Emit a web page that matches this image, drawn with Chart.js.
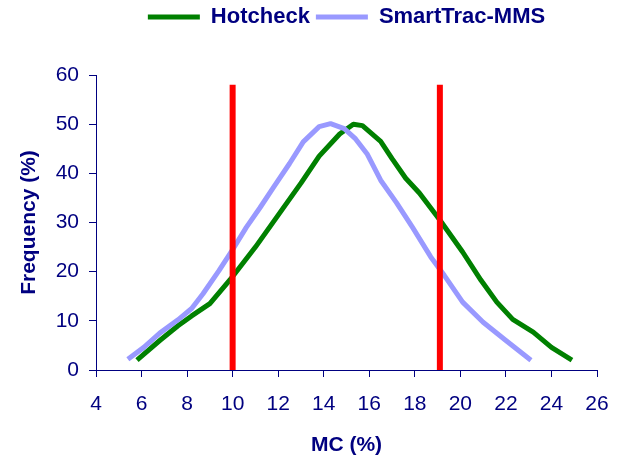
<!DOCTYPE html>
<html>
<head>
<meta charset="utf-8">
<script src="https://cdn.jsdelivr.net/npm/chart.js@4"></script>
<style>
html,body{margin:0;padding:0;background:#fff;}
#wrap{width:617px;height:458px;position:relative;}
</style>
</head>
<body>
<div id="wrap"><canvas id="c" width="617" height="458"></canvas></div>
<script>
const seriesNames = ['Hotcheck', 'SmartTrac-MMS'];
const hotcheckX = [5.8, 6.8, 7.6, 8.2, 9.0, 10.0, 11.0, 12.0, 13.0, 13.8, 14.7, 15.3, 15.7, 16.5, 17.0, 17.6, 18.2, 19.1, 20.1, 20.9, 21.6, 22.3, 23.2, 24.0, 24.9];
const hotcheckY = [2, 6, 9, 11, 13.5, 19, 25, 31.5, 38, 43.5, 48, 50, 49.7, 46.5, 43, 39, 36, 30.5, 24, 18.3, 13.8, 10.3, 7.7, 4.6, 2];
const smartX = [5.4, 6.1, 6.8, 7.6, 8.2, 8.7, 9.4, 10.0, 10.6, 11.2, 11.8, 12.5, 13.1, 13.8, 14.3, 14.9, 15.4, 15.9, 16.5, 17.2, 17.9, 18.7, 19.3, 20.1, 21.0, 22.0, 23.1];
const smartY = [2.2, 4.6, 7.5, 10.2, 12.5, 15.5, 20.2, 24.5, 29, 33, 37.2, 42, 46.4, 49.5, 50.1, 49.1, 47, 44, 38.6, 34, 29, 23, 19.2, 13.8, 9.7, 6, 2];
const limitX = [10.0, 19.1];
const limitY = [0, 58];
const xTickRange = [4, 26, 2];
const yTickRange = [0, 60, 10];
const xTitle = 'MC (%)';
const yTitle = 'Frequency (%)';

const navy = '#000080';
const font = "'Liberation Sans', Arial, Helvetica, sans-serif";
const pts = (xs, ys) => xs.map((x, i) => ({x: x, y: ys[i]}));

const datasets = [
  {label: seriesNames[0], data: pts(hotcheckX, hotcheckY), borderColor: '#008000', backgroundColor: '#008000', borderWidth: 5, order: 2},
  {label: seriesNames[1], data: pts(smartX, smartY), borderColor: '#9999FF', backgroundColor: '#9999FF', borderWidth: 5, order: 1},
  {label: '_lim1', data: limitY.map(y => ({x: limitX[0], y: y})), borderColor: '#FF0000', backgroundColor: '#FF0000', borderWidth: 6, order: 0, borderCapStyle: 'butt'},
  {label: '_lim2', data: limitY.map(y => ({x: limitX[1], y: y})), borderColor: '#FF0000', backgroundColor: '#FF0000', borderWidth: 6, order: 0, borderCapStyle: 'butt'}
].map(d => Object.assign({showLine: true, pointRadius: 0, pointHoverRadius: 0, tension: 0, fill: false, borderJoinStyle: 'round'}, d));

const legendFit = {
  id: 'legendFit',
  beforeInit(chart) {
    const orig = chart.legend.fit;
    chart.legend.fit = function () { orig.bind(chart.legend)(); this.height = 75; };
  }
};

new Chart(document.getElementById('c'), {
  type: 'scatter',
  data: {datasets: datasets},
  plugins: [legendFit],
  options: {
    responsive: false,
    animation: false,
    events: [],
    layout: {padding: {left: 0, right: 20, top: 0, bottom: 0}},
    plugins: {
      tooltip: {enabled: false},
      legend: {
        display: true,
        position: 'top',
        fullSize: false,
        labels: {
          generateLabels: (chart) => Chart.defaults.plugins.legend.labels.generateLabels(chart).map(l => Object.assign(l, {lineWidth: 0})),
          filter: (item) => !item.text.startsWith('_'),
          sort: (a, b) => a.datasetIndex - b.datasetIndex,
          boxWidth: 52,
          boxHeight: 5,
          padding: 6,
          color: navy,
          font: {family: font, size: 22, weight: 'bold'}
        }
      }
    },
    scales: {
      x: {
        type: 'linear',
        min: xTickRange[0], max: xTickRange[1],
        afterFit: (s) => { s.height = 88; s.paddingLeft = 0; s.paddingRight = 0; },
        ticks: {stepSize: xTickRange[2], color: navy, padding: 15, font: {family: font, size: 21}, maxRotation: 0},
        grid: {drawOnChartArea: false, drawTicks: true, tickLength: 7, color: navy},
        border: {color: navy, width: 1},
        title: {display: true, text: xTitle, color: navy, font: {family: font, size: 21, weight: 'bold'}, padding: {top: 0, bottom: 0}}
      },
      y: {
        type: 'linear',
        min: yTickRange[0], max: yTickRange[1],
        afterFit: (s) => { s.width = 96; s.paddingTop = 0; s.paddingBottom = 0; },
        ticks: {stepSize: yTickRange[2], color: navy, padding: 10, font: {family: font, size: 21}},
        grid: {drawOnChartArea: false, drawTicks: true, tickLength: 7, color: navy},
        border: {color: navy, width: 1},
        title: {display: true, text: yTitle, color: navy, font: {family: font, size: 21, weight: 'bold'}, padding: {top: 17, bottom: 0}}
      }
    }
  }
});
</script>
</body>
</html>
